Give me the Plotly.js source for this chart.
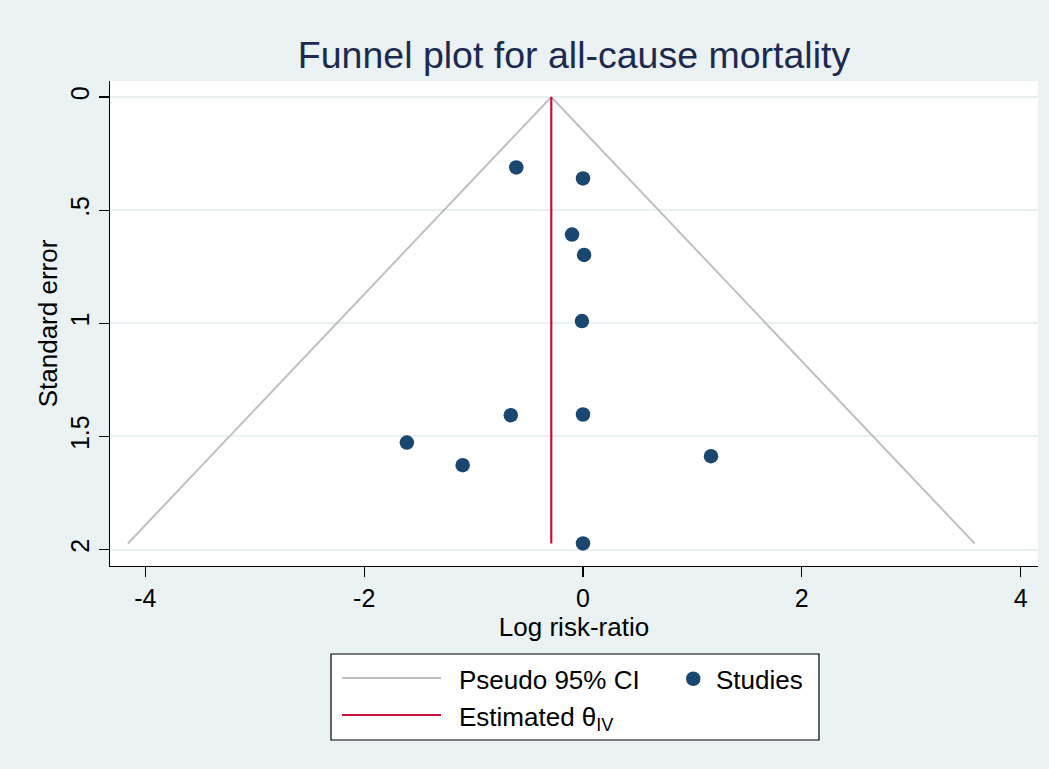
<!DOCTYPE html>
<html>
<head>
<meta charset="utf-8">
<script src="https://cdn.plot.ly/plotly-3.0.1.min.js"></script>
<style>html,body{margin:0;padding:0;background:#eaf2f3;}#chart{width:1049px;height:769px;}</style>
</head>
<body>
<div id="chart"></div>
<script>
// ---- data ----
var studyLogRR = [-0.61, 0.00, -0.10, 0.01, -0.01, -0.66, 0.00, -1.61, -1.10, 1.17, 0.00];
var studySE    = [0.311, 0.360, 0.608, 0.698, 0.990, 1.406, 1.403, 1.527, 1.627, 1.587, 1.973];
var ciX = [-4.16, -0.29, 3.58];
var ciY = [1.973, 0, 1.973];
var thetaX = [-0.29, -0.29];
var thetaY = [0, 1.973];
var xTickVals = [-4, -2, 0, 2, 4];
var xTickText = ['-4', '-2', '0', '2', '4'];
var yTickVals = [0, 0.5, 1, 1.5, 2];
var yTickText = ['0', '.5', '1', '1.5', '2'];

// ---- layout constants (pixels) ----
var W = 1049, H = 769;
var L = 110, R = 1038, T = 81, B = 566;
function px(x) { return (x - L) / (R - L); }
function py(y) { return (B - y) / (B - T); }

var FONT = 'Liberation Sans, Arial, sans-serif';
var GREY = '#c0c0c0', RED = '#c8103c', NAVY = '#1a476f';

var traces = [
  {x: ciX, y: ciY, type: 'scatter', mode: 'lines', line: {color: GREY, width: 2}, hoverinfo: 'skip', showlegend: false},
  {x: thetaX, y: thetaY, type: 'scatter', mode: 'lines', line: {color: RED, width: 2.2}, hoverinfo: 'skip', showlegend: false},
  {x: studyLogRR, y: studySE, type: 'scatter', mode: 'markers', marker: {color: NAVY, size: 14.5}, showlegend: false}
];

var shapes = [
  {type: 'rect', xref: 'paper', yref: 'paper', x0: px(331), x1: px(819), y0: py(740), y1: py(654), line: {color: '#000', width: 1.2}, fillcolor: '#fff', layer: 'above'},
  {type: 'line', xref: 'paper', yref: 'paper', x0: px(342), x1: px(441), y0: py(678), y1: py(678), line: {color: GREY, width: 2.2}},
  {type: 'line', xref: 'paper', yref: 'paper', x0: px(342), x1: px(441), y0: py(715), y1: py(715), line: {color: RED, width: 2.2}},
  {type: 'circle', xref: 'paper', yref: 'paper', x0: px(686), x1: px(700.5), y0: py(686), y1: py(671.5), line: {color: NAVY, width: 0}, fillcolor: NAVY}
];

var annotations = [
  {xref: 'paper', yref: 'paper', x: px(457), y: py(680), xanchor: 'left', yanchor: 'middle', text: 'Pseudo 95% CI', showarrow: false, font: {family: FONT, size: 26, color: '#000'}},
  {xref: 'paper', yref: 'paper', x: px(714), y: py(680), xanchor: 'left', yanchor: 'middle', text: 'Studies', showarrow: false, font: {family: FONT, size: 26, color: '#000'}},
  {xref: 'paper', yref: 'paper', x: px(457), y: py(718), xanchor: 'left', yanchor: 'middle', text: 'Estimated θ<sub>IV</sub>', showarrow: false, font: {family: FONT, size: 26, color: '#000'}}
];

var layout = {
  width: W, height: H,
  paper_bgcolor: '#eaf2f3', plot_bgcolor: '#ffffff',
  margin: {l: L, r: W - R, t: T, b: H - B, pad: 0},
  font: {family: FONT, color: '#000'},
  title: {text: 'Funnel plot for all-cause mortality', font: {family: FONT, size: 37.5, color: '#1c2a50'},
          xref: 'paper', x: 0.5, xanchor: 'center', yref: 'container', y: 1 - 55 / H, yanchor: 'middle'},
  xaxis: {range: [(L - 583) / 109.4, (R - 583) / 109.4], tickvals: xTickVals, ticktext: xTickText,
          showgrid: false, zeroline: false, showline: true, linecolor: '#000', linewidth: 1.2,
          ticks: 'outside', ticklen: 10, tickwidth: 1.2, tickcolor: '#000',
          tickfont: {family: FONT, size: 25, color: '#000'}, automargin: false,
          title: {text: 'Log risk-ratio', standoff: 2, font: {family: FONT, size: 26, color: '#000'}}},
  yaxis: {range: [(B - 97) / 226.3, (T - 97) / 226.3], tickvals: yTickVals, ticktext: yTickText, tickangle: -90,
          showgrid: true, gridcolor: '#e9f0f2', gridwidth: 2, zeroline: false, showline: true, linecolor: '#000', linewidth: 1.2,
          ticks: 'outside', ticklen: 10, tickwidth: 1.2, tickcolor: '#000',
          tickfont: {family: FONT, size: 25, color: '#000'}, automargin: false,
          title: {text: 'Standard error', standoff: 0, font: {family: FONT, size: 26, color: '#000'}}},
  shapes: shapes,
  annotations: annotations,
  showlegend: false
};

Plotly.newPlot('chart', traces, layout, {displayModeBar: false, staticPlot: true});
</script>
</body>
</html>
